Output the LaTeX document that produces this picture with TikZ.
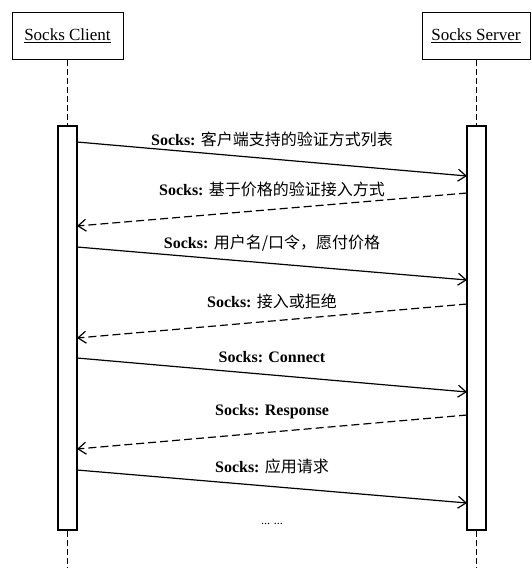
\documentclass[tikz,border=0pt]{standalone}
\usepackage{fontspec}
\setmainfont{Liberation Serif}
\newfontfamily\cjk{Noto Sans CJK SC}
\usetikzlibrary{positioning,arrows.meta}

\begin{document}
\begin{tikzpicture}[x=1pt,y=-1pt,>={Straight Barb[length=8pt,width=12pt]},
  head/.style={rectangle,draw,line width=1pt,minimum height=47pt,font=\fontsize{17}{20}\selectfont},
  bar/.style={rectangle,draw,line width=1.1pt,minimum width=19pt,minimum height=404pt},
  life/.style={line width=1pt,dash pattern=on 6pt off 3pt},
  msg/.style={->,line width=1.2pt},
  reply/.style={msg,dash pattern=on 8pt off 4pt},
  msg text/.style={above=10pt,inner sep=2pt,font=\fontsize{16}{19}\selectfont}]

  \useasboundingbox (0,0) rectangle (532,568);

  \node[head,minimum width=111pt] (client) at (67.5,35.5) {\underline{Socks Client}};
  \node[head,minimum width=108pt] (server) at (476,35.5) {\underline{Socks Server}};

  \node[bar] (cbar) at (67.5,328) {};
  \node[bar] (sbar) at (476.5,328) {};

  \coordinate (cend) at (67.5,568);
  \coordinate (send) at (476.5,568);

  % lifelines
  \draw[life] (client) -- (cbar) (cbar) -- (cend);
  \draw[life] (server.south -| sbar) -- (sbar) (sbar) -- (send);

  % message ends on the bars
  \coordinate (c1) at (77,142);  \coordinate (s1) at (467,176);
  \coordinate (s2) at (467,193); \coordinate (c2) at (77,226);
  \coordinate (c3) at (77,247);  \coordinate (s3) at (467,280);
  \coordinate (s4) at (467,304); \coordinate (c4) at (77,338);
  \coordinate (c5) at (77,358);  \coordinate (s5) at (467,392);
  \coordinate (s6) at (467,415); \coordinate (c6) at (77,449);
  \coordinate (c7) at (77,470);  \coordinate (s7) at (467,503);

  \path
    (c1) edge[msg] node[msg text] {\textbf{Socks:} {\cjk 客户端支持的验证方式列表}} (s1)
    (s2) edge[reply] node[msg text] {\textbf{Socks:} {\cjk 基于价格的验证接入方式}} (c2)
    (c3) edge[msg] node[msg text] {\textbf{Socks:} {\cjk 用户名/口令，愿付价格}} (s3)
    (s4) edge[reply] node[msg text] {\textbf{Socks:} {\cjk 接入或拒绝}} (c4)
    (c5) edge[msg] node[msg text] {\textbf{Socks: Connect}} (s5)
    (s6) edge[reply] node[msg text] {\textbf{Socks: Response}} (c6)
    (c7) edge[msg] node[msg text] {\textbf{Socks:} {\cjk 应用请求}} (s7);

  \node[font=\fontsize{12}{14}\selectfont] (more) at (272,524) {... ...};
\end{tikzpicture}
\end{document}
